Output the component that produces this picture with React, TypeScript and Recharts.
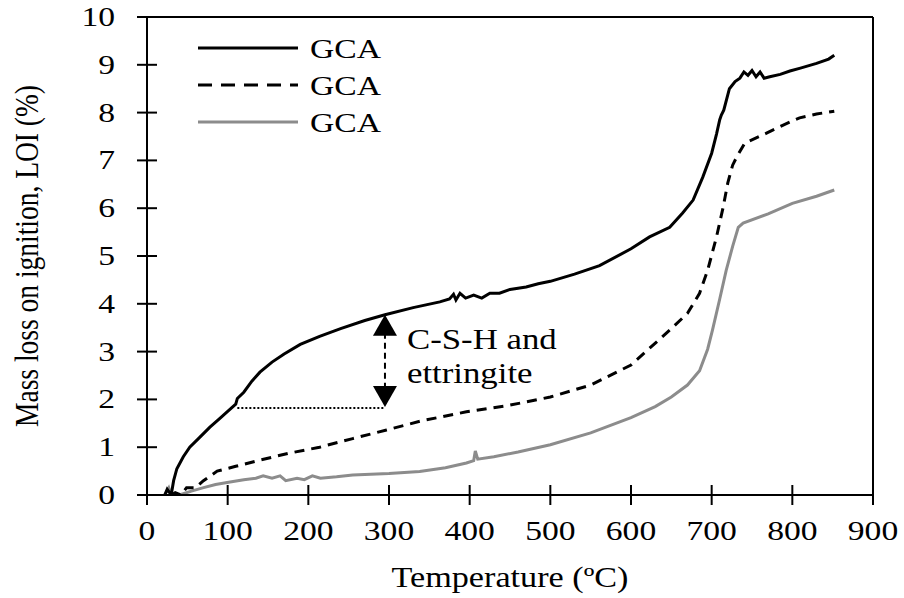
import React from 'react';
import { LineChart, Line, XAxis, YAxis, ReferenceLine, Label } from 'recharts';

const seriesNames = ['GCA', 'GCA', 'GCA'];
const xTicks = [0, 100, 200, 300, 400, 500, 600, 700, 800, 900];
const yTicks = [0, 1, 2, 3, 4, 5, 6, 7, 8, 9, 10];

const blackCurve = [
  [22, 0], [25, 0.12], [28, 0.05], [30, 0.0], [33, 0.3], [37, 0.55], [45, 0.8], [53, 1.0], [65, 1.2],
  [78, 1.42], [90, 1.6], [100, 1.75], [110, 1.9], [112, 2.02], [120, 2.15], [130, 2.38], [140, 2.57],
  [155, 2.78], [170, 2.95], [190, 3.15], [214, 3.32], [240, 3.48], [270, 3.65], [295, 3.77], [330, 3.92],
  [363, 4.04], [375, 4.1], [380, 4.2], [383, 4.08], [388, 4.22], [395, 4.12], [405, 4.18], [415, 4.12],
  [425, 4.22], [437, 4.22], [450, 4.3], [470, 4.35], [485, 4.42], [500, 4.47], [530, 4.62], [561, 4.8],
  [600, 5.15], [623, 5.4], [648, 5.6], [664, 5.9], [677, 6.17], [689, 6.65], [700, 7.15], [706, 7.55],
  [710, 7.85], [712, 7.95], [715, 8.05], [722, 8.5], [729, 8.65], [735, 8.72], [740, 8.85], [745, 8.78],
  [750, 8.88], [755, 8.75], [760, 8.85], [765, 8.72], [772, 8.75], [785, 8.8], [797, 8.87], [810, 8.93],
  [830, 9.03], [845, 9.12], [852, 9.2],
];

const dashedCurve = [
  [30, 0.0], [35, 0.05], [42, 0.0], [49, 0.15], [60, 0.15], [70, 0.3], [87, 0.5], [110, 0.6], [140, 0.73],
  [175, 0.87], [214, 1.0], [255, 1.18], [297, 1.36], [340, 1.55], [396, 1.74], [450, 1.88], [500, 2.05],
  [550, 2.3], [600, 2.72], [648, 3.45], [670, 3.8], [685, 4.22], [695, 4.7], [706, 5.4], [714, 6.0],
  [720, 6.53], [726, 6.9], [731, 7.07], [741, 7.36], [768, 7.57], [790, 7.75], [809, 7.89], [830, 7.97],
  [852, 8.03],
];

const grayCurve = [
  [22, 0.0], [27, 0.15], [30, 0.0], [40, 0.0], [55, 0.08], [69, 0.15], [85, 0.22], [103, 0.27], [120, 0.32],
  [135, 0.35], [144, 0.4], [155, 0.35], [165, 0.4], [172, 0.3], [186, 0.35], [195, 0.32], [205, 0.4],
  [215, 0.35], [235, 0.38], [255, 0.42], [300, 0.45], [338, 0.49], [370, 0.57], [396, 0.67], [405, 0.72],
  [407, 0.92], [410, 0.75], [430, 0.8], [460, 0.9], [500, 1.05], [550, 1.3], [600, 1.62], [630, 1.85],
  [650, 2.05], [670, 2.3], [685, 2.6], [695, 3.05], [701, 3.45], [710, 4.1], [718, 4.7], [726, 5.2],
  [733, 5.6], [739, 5.69], [770, 5.88], [800, 6.1], [830, 6.25], [852, 6.38],
];

const dottedLevel = [[112, 1.82], [295, 1.82]];
const arrowSpan = [[295, 3.77], [295, 1.84]];
const annotationLines = ['C-S-H and', 'ettringite'];

const toPts = (arr: number[][]) => arr.map(([t, v]) => ({ t, v }));

const FONT = '"Liberation Serif", "Times New Roman", serif';
const SX = 1.2;

const STextH = ({ x, y, children, size = 28, anchor = 'middle' }: any) => (
  <text
    transform={`translate(${x},${y}) scale(${SX},1)`}
    x={0}
    y={0}
    textAnchor={anchor}
    fontFamily={FONT}
    fontSize={size}
    fill="#000"
  >
    {children}
  </text>
);

const YTick = (props: any) => {
  const { x, y, payload } = props;
  return (
    <g>
      <line x1={x - 10} x2={x + 10} y1={y} y2={y} stroke="#000" strokeWidth={2} />
      <STextH x={x - 32} y={y + 9} anchor="end">{payload.value}</STextH>
    </g>
  );
};

const XTick = (props: any) => {
  const { x, y, payload } = props;
  return (
    <g>
      <line x1={x} x2={x} y1={y - 10} y2={y + 10} stroke="#000" strokeWidth={2} />
      <STextH x={x} y={y + 45}>{payload.value}</STextH>
    </g>
  );
};

const ArrowShape = (props: any) => {
  const { x1, y1, x2, y2 } = props;
  const top = Math.min(y1, y2);
  const bot = Math.max(y1, y2);
  const x = x1;
  return (
    <g>
      <line x1={x} x2={x} y1={top + 18} y2={bot - 18} stroke="#000" strokeWidth={2} strokeDasharray="6 4" />
      <polygon points={`${x},${top} ${x - 12},${top + 21} ${x + 12},${top + 21}`} fill="#000" />
      <polygon points={`${x},${bot} ${x - 12},${bot - 21} ${x + 12},${bot - 21}`} fill="#000" />
      <STextH x={x + 22} y={top + 34} anchor="start" size={29}>{annotationLines[0]}</STextH>
      <STextH x={x + 22} y={top + 68} anchor="start" size={29}>{annotationLines[1]}</STextH>
    </g>
  );
};

const legendStyles = [
  { stroke: '#000', dash: undefined },
  { stroke: '#000', dash: '14 9' },
  { stroke: '#8c8c8c', dash: undefined },
];

const LegendBox = () => (
  <svg width={240} height={120} style={{ position: 'absolute', left: 190, top: 29 }}>
    {seriesNames.map((n, i) => (
      <g key={i}>
        <line
          x1={8}
          x2={108}
          y1={19 + i * 37}
          y2={19 + i * 37}
          stroke={legendStyles[i].stroke}
          strokeWidth={3}
          strokeDasharray={legendStyles[i].dash}
        />
        <STextH x={120} y={29 + i * 37} anchor="start" size={28}>{n}</STextH>
      </g>
    ))}
  </svg>
);

export default function App() {
  return (
    <div style={{ position: 'absolute', left: 0, top: 0, width: 904, height: 598, background: '#fff' }}>
      <LineChart width={904} height={598} margin={{ top: 17, right: 31, bottom: 0, left: 0 }}>
        <XAxis
          dataKey="t"
          type="number"
          domain={[0, 900]}
          ticks={xTicks}
          height={103}
          tickSize={0}
          tickMargin={0}
          tickLine={false}
          axisLine={{ stroke: '#000', strokeWidth: 2 }}
          tick={<XTick />}
          interval={0}
          allowDataOverflow
        >
          <Label
            content={(p: any) => {
              const vb = p.viewBox;
              return (
                <STextH x={vb.x + vb.width / 2} y={vb.y + 92} size={28.5}>Temperature (ºC)</STextH>
              );
            }}
          />
        </XAxis>
        <YAxis
          dataKey="v"
          type="number"
          domain={[0, 10]}
          ticks={yTicks}
          width={147}
          tickSize={0}
          tickMargin={0}
          tickLine={false}
          axisLine={{ stroke: '#000', strokeWidth: 2 }}
          tick={<YTick />}
          interval={0}
          allowDataOverflow
        >
          <Label
            content={(p: any) => {
              const vb = p.viewBox;
              const cy = vb.y + vb.height / 2;
              return (
                <text
                  transform={`translate(38,${cy}) scale(${SX},1) rotate(-90)`}
                  x={0}
                  y={0}
                  textAnchor="middle"
                  fontFamily={FONT}
                  fontSize={27.5}
                  fill="#000"
                >
                  Mass loss on ignition, LOI (%)
                </text>
              );
            }}
          />
        </YAxis>
        <ReferenceLine y={10} stroke="#000" strokeWidth={2} />
        <ReferenceLine x={900} stroke="#000" strokeWidth={2} />
        <ReferenceLine
          segment={toPts(dottedLevel).map((p) => ({ x: p.t, y: p.v }))}
          stroke="#000"
          strokeWidth={2}
          strokeDasharray="2 2"
        />
        <ReferenceLine
          segment={toPts(arrowSpan).map((p) => ({ x: p.t, y: p.v }))}
          shape={(p: any) => <ArrowShape {...p} />}
        />
        <Line
          data={toPts(grayCurve)}
          dataKey="v"
          name={seriesNames[2]}
          stroke="#8c8c8c"
          strokeWidth={3}
          dot={false}
          isAnimationActive={false}
        />
        <Line
          data={toPts(dashedCurve)}
          dataKey="v"
          name={seriesNames[1]}
          stroke="#000"
          strokeWidth={3}
          strokeDasharray="10 7"
          dot={false}
          isAnimationActive={false}
        />
        <Line
          data={toPts(blackCurve)}
          dataKey="v"
          name={seriesNames[0]}
          stroke="#000"
          strokeWidth={3}
          dot={false}
          isAnimationActive={false}
        />
      </LineChart>
      <LegendBox />
    </div>
  );
}
